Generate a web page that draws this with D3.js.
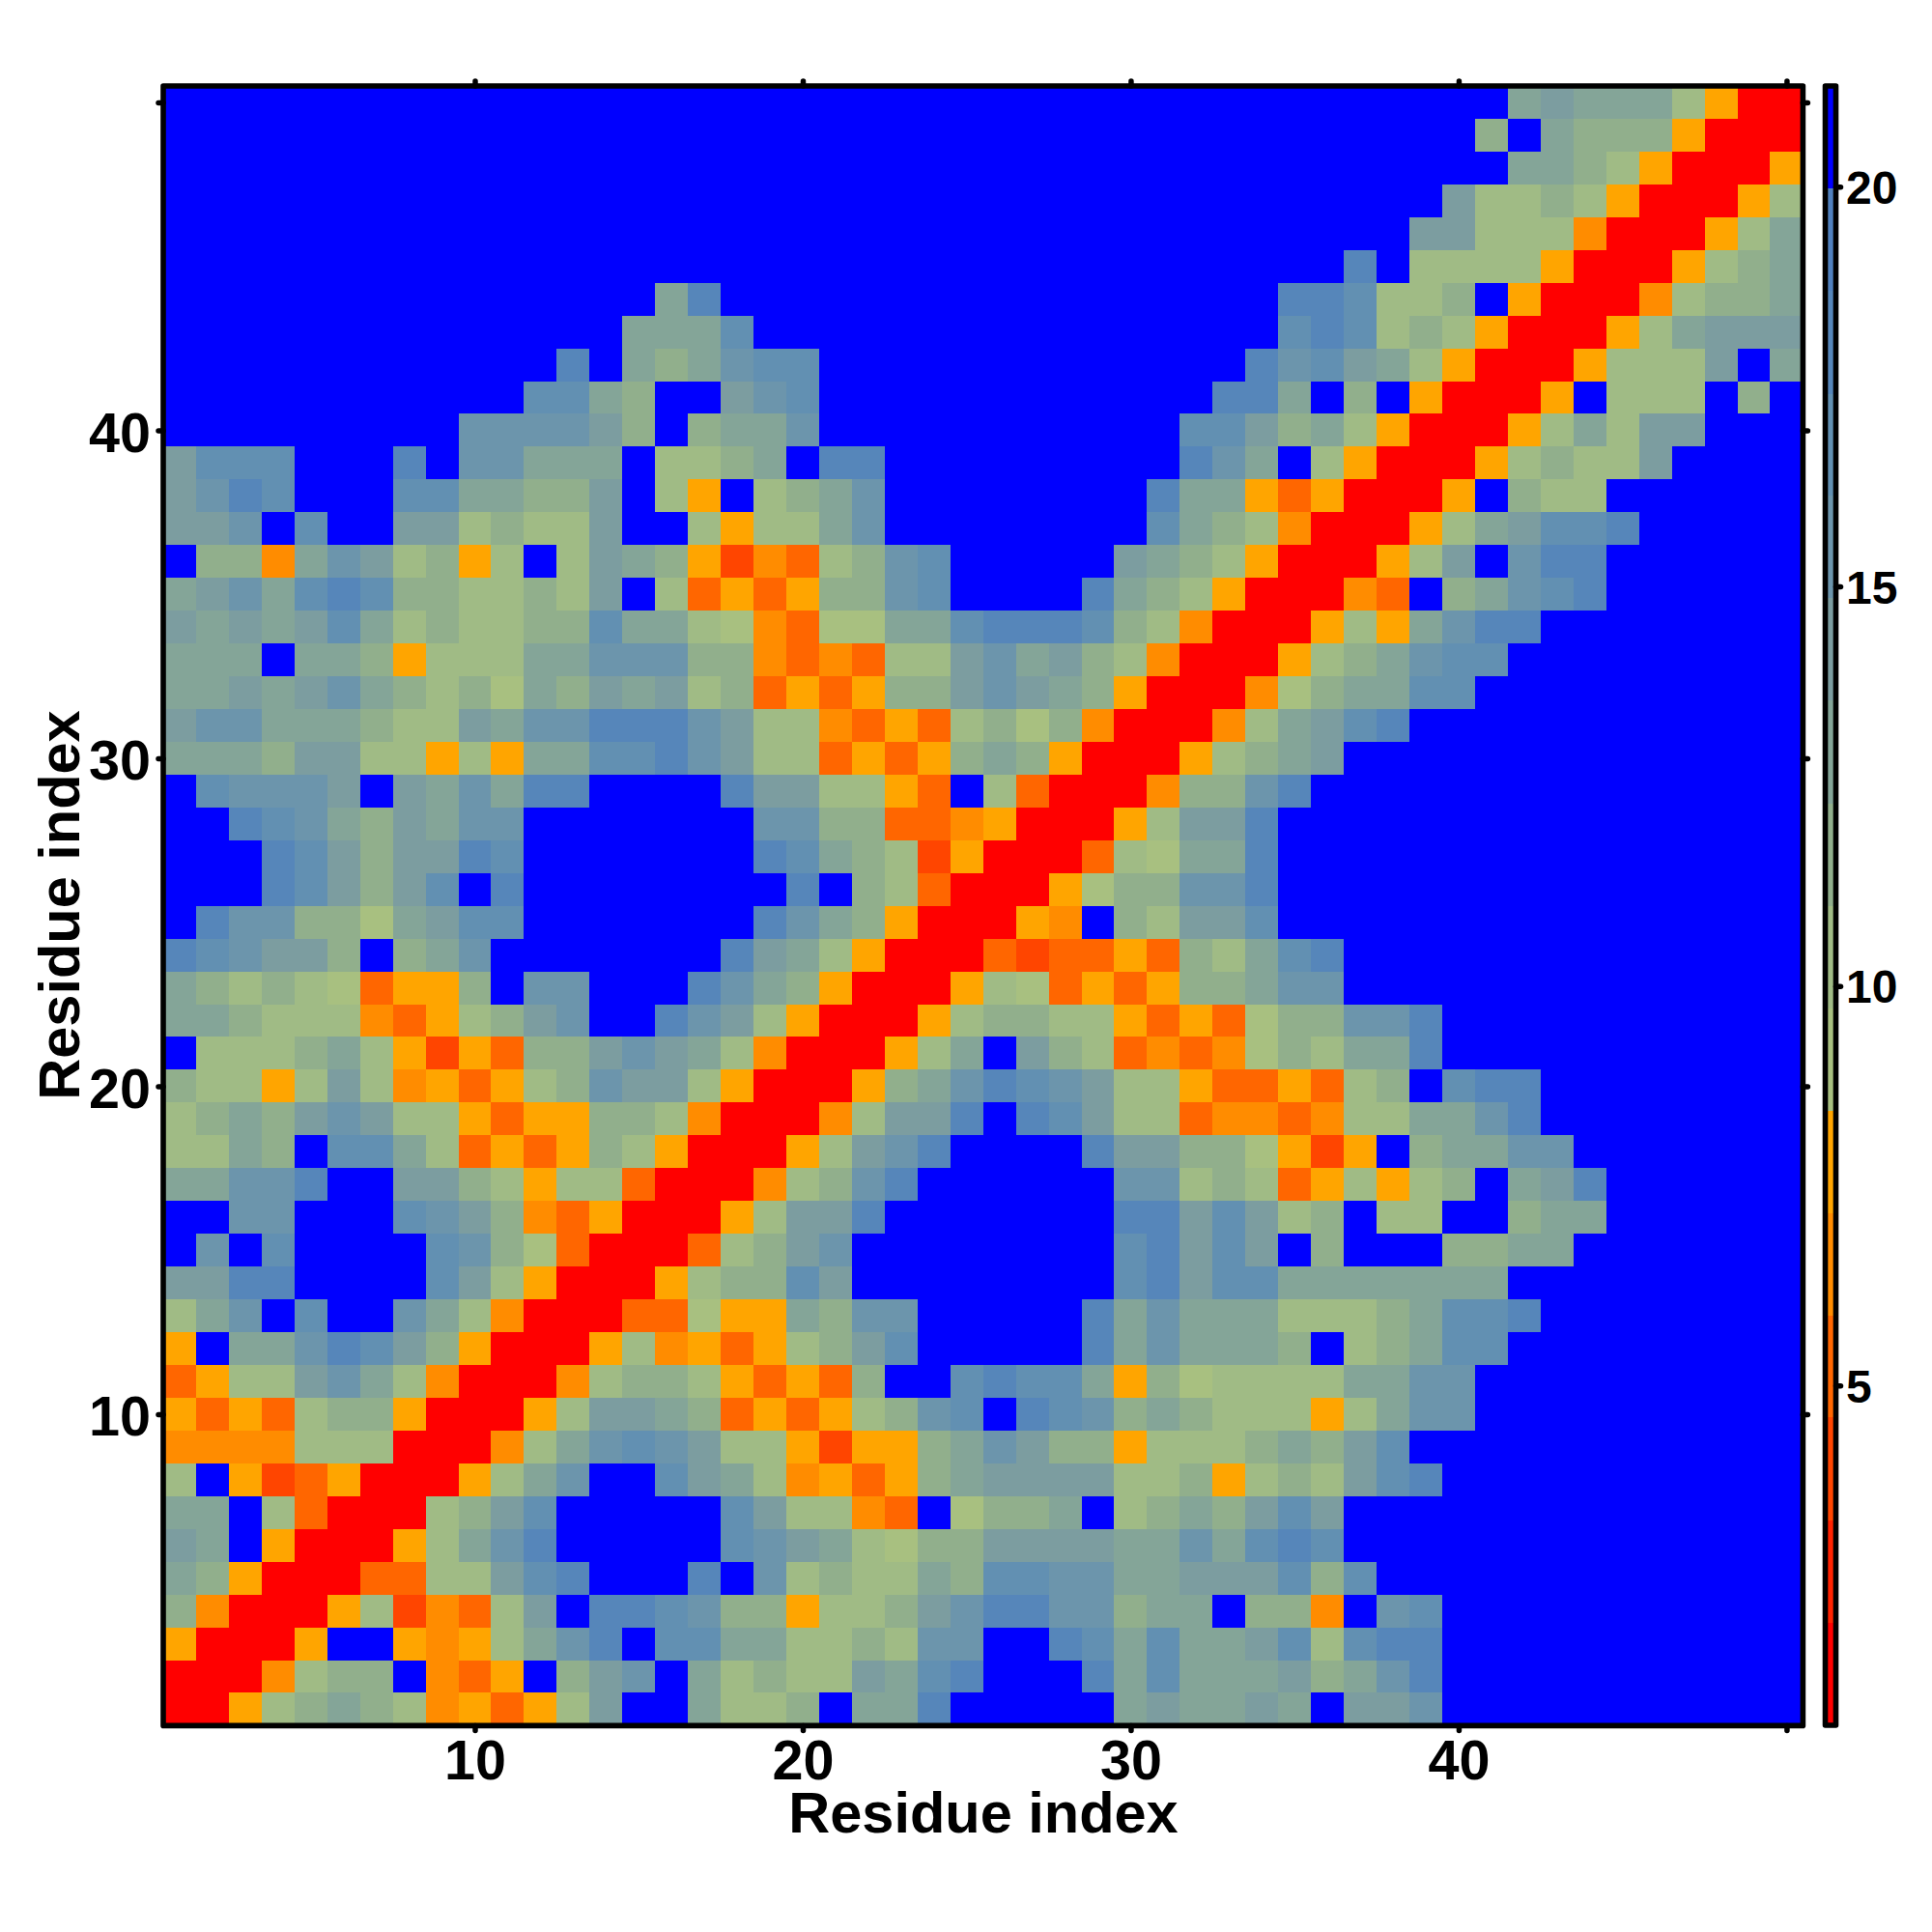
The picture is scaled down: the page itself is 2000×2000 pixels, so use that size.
<!DOCTYPE html>
<html>
<head>
<meta charset="utf-8">
<script src="https://cdn.jsdelivr.net/npm/d3@7"></script>
<style>
html,body{margin:0;padding:0;background:#fff}
svg{display:block}
text{font-family:"Liberation Sans",Arimo,Helvetica,Arial,sans-serif;font-weight:bold;fill:#000}
</style>
</head>
<body>
<svg id="chart" width="2000" height="2000"></svg>
<script>
// Residue indices
const residues = d3.range(1, 51);
// Colour bar level breaks (distance) and colours
const levelBreaks = [0.75,2.03,3.31,4.6,5.88,7.16,8.44,9.72,11,12.28,13.57,14.85,16.13,17.41,18.7,19.98,21.26];
const levelColors = ["#ff0000","#ff2200","#ff4500","#ff6600","#ff8c00","#ffa500","#a8c080","#a0bb85","#91af8c","#84a598","#7c9da0","#6c95ac","#6290b2","#5686ba","#5080be","#0000ff"];
// Code letter of each level, from the shortest distance to the longest
const levelCodes = "RrabcdefghijklmB";
const xTicks = [10,20,30,40,50];
const yTicks = [10,20,30,40,50];
const barTicks = [5,10,15,20];
const axisLabel = "Residue index";
// Binned distances, one string per row, residue 50 at the top; columns 1..50
const distanceRows = [
"BBBBBBBBBB BBBBBBBBBB BBBBBBBBBB BBBBBBBBBB BhihhhfdRR",
"BBBBBBBBBB BBBBBBBBBB BBBBBBBBBB BBBBBBBBBB gBhgggdRRR",
"BBBBBBBBBB BBBBBBBBBB BBBBBBBBBB BBBBBBBBBB BhhgfdRRRd",
"BBBBBBBBBB BBBBBBBBBB BBBBBBBBBB BBBBBBBBBi ffgfdRRRdf",
"BBBBBBBBBB BBBBBBBBBB BBBBBBBBBB BBBBBBBBii fffcRRRdfh",
"BBBBBBBBBB BBBBBBBBBB BBBBBBBBBB BBBBBBlBff ffdRRRdfgh",
"BBBBBBBBBB BBBBBhlBBB BBBBBBBBBB BBBBllkffg BdRRRcfggh",
"BBBBBBBBBB BBBBhhhkBB BBBBBBBBBB BBBBklkfgf dRRRdfhiii",
"BBBBBBBBBB BBlBhghjkk BBBBBBBBBB BBBljkihfd RRRdfffiBh",
"BBBBBBBBBB BkkhgBBijk BBBBBBBBBB BBllhBgBdR RRdBfffBgB",
"BBBBBBBBBj jjjigBghhj BBBBBBBBBB BkkighfdRR RdfhfiiBBB",
"ikkkBBBlBj jhhhBffghB llBBBBBBBB BljhBfdRRR dfgffiBBBB",
"ijlkBBBkkh hggiBfdBfg hjBBBBBBBB lhhdbdRRRd BgffBBBBBB",
"iijBkBBiif gffiBBfdff hjBBBBBBBB khgfcRRRdf hikklBBBBB",
"Bggchjifgd fBfihgdacb fgjkBBBBBi hgfdRRRdfi BjllBBBBBB",
"hijhklkggf fgfiBfbdbd ggjkBBBBlh gfdRRRcbBg hjklBBBBBB",
"ihihikhfgf fggkhhfecb eehhklllkg fcRRRdfdhj llBBBBBBBB",
"hhhBhhgdff fhhjjjggcb cbffijhigf cRRRdfghjk kBBBBBBBBB",
"hhihijhgfg ehgihifgbd bdggijihgd RRRceghhkk BBBBBBBBBB",
"ijjhhhgffi hjjllljiff cbdbfgegcR RRcfhiklBB BBBBBBBBBB",
"hhhgiiffdf dhhkkljiff bdbdghgdRR RdfghiBBBB BBBBBBBBBB",
"BkjjjiBihj hllBBBBlii ffdbBfbRRR cggjlBBBBB BBBBBBBBBB",
"BBlkjhgihj jBBBBBBBjj ggbbcdRRRd fiilBBBBBB BBBBBBBBBB",
"BBBlkigiil kBBBBBBBlk hgfadRRRbf ehhlBBBBBB BBBBBBBBBB",
"BBBlkigikB lBBBBBBBBl BgfbRRRdeg gjjlBBBBBB BBBBBBBBBB",
"Bljjggehik kBBBBBBBlj hgdRRRdcBg fiikBBBBBB BBBBBBBBBB",
"lkjiigBghj BBBBBBBlih fdRRRbabbd bgfhklBBBB BBBBBBBBBB",
"hgfgfebddg BjjBBBljhg dRRRdfebdb dgghjjBBBB BBBBBBBBBB",
"hhgfffcbdf gijBBljifd RRRdfggffd bdbeggjjlB BBBBBBBBBB",
"Bfffghfdad bggijihfcR RRdfhBigfb cbcegfhhlB BBBBBBBBBB",
"gffdfifcdb dfgjiifdRR Rdghjlkjif fdbbdbfgBk llBBBBBBBB",
"fghgijiffd bddggfcRRR cfiilBlkif fbccbcffhh jlBBBBBBBB",
"ffhgBkkhfb dbdgfdRRRd fijlBBBBli iggedadBgh hjjBBBBBBB",
"hhjjlBBiig fdffbRRRcf gjlBBBBBBj jfgfbdfdfg BhilBBBBBB",
"BBjjBBBkji gcbdRRRdfi ilBBBBBBBl likifgBffB BghhBBBBBB",
"BjBkBBBBkj gebRRRbfgi jBBBBBBBBk likiBgBBBg ghhBBBBBBB",
"iillBBBBki fdRRRdfggk iBBBBBBBBk likkhhhhhh hBBBBBBBBB",
"fhjBkBBjhf cRRRbbeddh gjjBBBBBlh jhhhfffghk klBBBBBBBB",
"dBhhjlkigd RRRdfcdbdf gikBBBBBlh jhhhgBfghk kBBBBBBBBB",
"bdffijhfcR RRcfggfdbd bgBBklkkhd geffffhhjj BBBBBBBBBB",
"dbdbfggdRR Rdfiihgbdb dfgjkBlkjg hgfffdfhjj BBBBBBBBBB",
"ccccfffRRR cfhjkjiffd addghjiggd fffghgikBB BBBBBBBBBB",
"fBdabdRRRd fhjBBkihfc dbdghiiiif fgdfgfiklB BBBBBBBBBB",
"hhBfbRRRfg ikBBBBBkif fcbBegghBf ghgikiBBBB BBBBBBBBBB",
"ihBdRRRdfh jlBBBBBkji hfeggiiiih hjhklkBBBB BBBBBBBBBB",
"hgdRRRbbff iklBBBlBjf gffhgkkjjh hiiikgkBBB BBBBBBBBBB",
"gcRRRdfacb fiBllkjggd ffgijlljjg hhBggcBjkB BBBBBBBBBB",
"dRRRdBBdcd fhjlBkkhhf fgfjjBBlkh khhikfkllB BBBBBBBBBB",
"RRRcfggBcb dBgijBhfgf fihklBBBlh khhhighjlB BBBBBBBBBB",
"RRdfghgfcd bdfiBBhffg BhhlBBBBBh ihhihBiijB BBBBBBBBBB"
];

const svg = d3.select("#chart");
const x = d3.scaleLinear().domain([0.5, 50.5]).range([169, 1866.4]);
const y = d3.scaleLinear().domain([0.5, 50.5]).range([1786.4, 89]);
const barY = d3.scaleLinear().domain([levelBreaks[0], levelBreaks[16]]).range([1786, 89]);
const color = d3.scaleThreshold().domain(levelBreaks.slice(1, 16)).range(levelColors);

// Turn each code into the midpoint of its level
const levelValue = code => {
  const i = levelCodes.indexOf(code);
  return (levelBreaks[i] + levelBreaks[i + 1]) / 2;
};
const cells = [];
distanceRows.forEach((row, r) => {
  row.replace(/ /g, "").split("").forEach((code, c) => {
    cells.push({ col: residues[c], row: 50 - r, value: levelValue(code) });
  });
});

svg.append("g").selectAll("rect").data(cells).join("rect")
  .attr("x", d => x(d.col - 0.5))
  .attr("y", d => y(d.row + 0.5))
  .attr("width", d => x(d.col + 0.5) - x(d.col - 0.5))
  .attr("height", d => y(d.row - 0.5) - y(d.row + 0.5))
  .attr("fill", d => color(d.value))
  .attr("shape-rendering", "crispEdges");

// Colour bar
const barLeft = 1889.5, barRight = 1900.5;
svg.append("g").selectAll("rect").data(levelColors).join("rect")
  .attr("x", barLeft)
  .attr("width", barRight - barLeft)
  .attr("y", (d, i) => barY(levelBreaks[i + 1]))
  .attr("height", (d, i) => barY(levelBreaks[i]) - barY(levelBreaks[i + 1]))
  .attr("fill", d => d)
  .attr("shape-rendering", "crispEdges");

function styleAxis(g) {
  g.select(".domain").remove();
  g.selectAll(".tick line")
    .attr("stroke", "#000").attr("stroke-width", 5.5).attr("stroke-linecap", "round");
}
const fmt = d => (d === 50 ? "" : d);
const none = () => "";

const gBottom = svg.append("g").attr("transform", "translate(0,1786.4)")
  .call(d3.axisBottom(x).tickValues(xTicks).tickSize(5).tickFormat(fmt)).call(styleAxis);
gBottom.selectAll("text").attr("y", 56).attr("dy", 0).attr("font-size", 57.5)
  .attr("font-family", null).style("font-family", '"Liberation Sans"');

svg.append("g").attr("transform", "translate(0,89)")
  .call(d3.axisTop(x).tickValues(xTicks).tickSize(5).tickFormat(none)).call(styleAxis);

const gLeft = svg.append("g").attr("transform", "translate(169,0)")
  .call(d3.axisLeft(y).tickValues(yTicks).tickSize(5).tickFormat(fmt)).call(styleAxis);
gLeft.selectAll("text").attr("x", -13).attr("dy", "0.38em").attr("font-size", 57.5)
  .attr("font-family", null).style("font-family", '"Liberation Sans"');

svg.append("g").attr("transform", "translate(1866.4,0)")
  .call(d3.axisRight(y).tickValues(yTicks).tickSize(5).tickFormat(none)).call(styleAxis);

const gBar = svg.append("g").attr("transform", `translate(${barRight},0)`)
  .call(d3.axisRight(barY).tickValues(barTicks).tickSize(5)).call(styleAxis);
gBar.selectAll("text").attr("x", 10.5).attr("dy", "0.36em").attr("font-size", 48)
  .attr("font-family", null).style("font-family", '"Liberation Sans"');

// Frames
svg.append("rect")
  .attr("x", x.range()[0]).attr("y", y.range()[1])
  .attr("width", x.range()[1] - x.range()[0]).attr("height", y.range()[0] - y.range()[1])
  .attr("fill", "none").attr("stroke", "#000").attr("stroke-width", 5.6).attr("stroke-linejoin", "round");
svg.append("rect")
  .attr("x", barLeft).attr("y", barY.range()[1])
  .attr("width", barRight - barLeft).attr("height", barY.range()[0] - barY.range()[1])
  .attr("fill", "none").attr("stroke", "#000").attr("stroke-width", 5.6).attr("stroke-linejoin", "round");

// Axis titles
svg.append("text").attr("x", 1018).attr("y", 1897).attr("text-anchor", "middle")
  .attr("font-size", 59.5).text(axisLabel);
svg.append("text").attr("transform", "translate(82,937) rotate(-90)").attr("text-anchor", "middle")
  .attr("font-size", 59.5).text(axisLabel);
</script>
</body>
</html>
